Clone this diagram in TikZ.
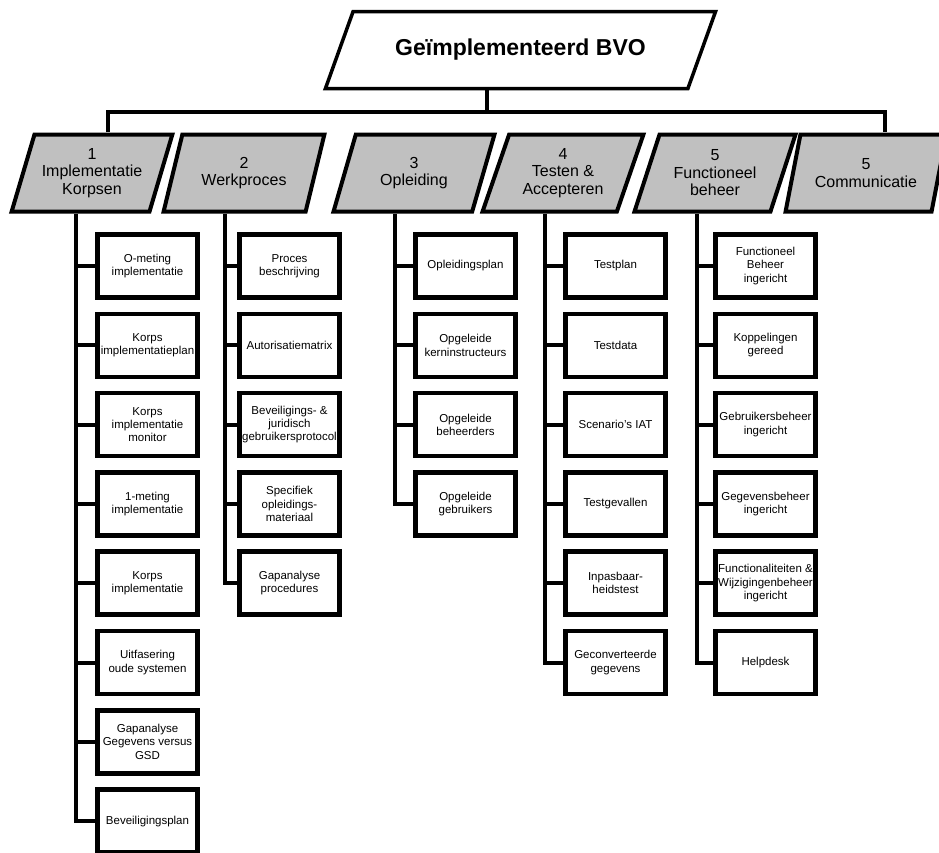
\documentclass[tikz,border=0pt]{standalone}
\usepackage{fontspec}
\setmainfont{Liberation Sans}
\usetikzlibrary{shapes.geometric}
\definecolor{wpgray}{RGB}{192,192,192}
\tikzset{
  goal/.style={draw, line width=3.5pt, trapezium, trapezium left angle=46,
    trapezium right angle=134, trapezium stretches=true, minimum width=391pt,
    minimum height=77pt, inner sep=0pt, font=\bfseries\fontsize{23}{27}\selectfont},
  wp/.style={draw, fill=wpgray, line width=4pt, trapezium, trapezium left angle=68,
    trapezium right angle=112, trapezium stretches=true, minimum width=161pt,
    minimum height=77pt, inner sep=0pt, align=center,
    font=\fontsize{16}{17.5}\selectfont},
  task/.style={draw, line width=4.5pt, rectangle, minimum width=100pt,
    minimum height=63pt, inner sep=1pt, align=center,
    font=\fontsize{11.5}{13.3}\selectfont},
  conn/.style={line width=4pt},
}
\begin{document}
\begin{tikzpicture}[x=1pt,y=-1pt]
      \useasboundingbox (0,0) rectangle (939,852);
      \pgfmathsetmacro{\h}{79.3}
      \pgfmathsetmacro{\yy}{266}

      \node[goal] (top) at (520.5,50) {Geïmplementeerd BVO};

      \node[wp] (w1) at (92,173) {1\\Implementatie\\Korpsen};
      \node[wp] (w2) at (244,173) {2\\Werkproces};
      \node[wp] (w3) at (414,173) {3\\Opleiding};
      \node[wp] (w4) at (563,173) {4\\Testen \&\\Accepteren};
      \node[wp] (w5) at (715,173) {5\\Functioneel\\beheer};
      \node[wp] (w6) at (866,173) {5\\Communicatie};

      \node[task] (c11) at (147.5,\yy) {O-meting\\implementatie};
      \node[task] (c12) at (147.5,\yy + \h) {Korps\\implementatieplan};
      \node[task] (c13) at (147.5,\yy + \h * 2) {Korps\\implementatie\\monitor};
      \node[task] (c14) at (147.5,\yy + \h * 3) {1-meting\\implementatie};
      \node[task] (c15) at (147.5,\yy + \h * 4) {Korps\\implementatie};
      \node[task] (c16) at (147.5,\yy + \h * 5) {Uitfasering\\oude systemen};
      \node[task] (c17) at (147.5,\yy + \h * 6) {Gapanalyse\\Gegevens versus\\GSD};
      \node[task] (c18) at (147.5,\yy + \h * 7) {Beveiligingsplan};

      \node[task] (c21) at (289.5,\yy) {Proces\\beschrijving};
      \node[task] (c22) at (289.5,\yy + \h) {Autorisatiematrix};
      \node[task] (c23) at (289.5,\yy + \h * 2) {Beveiligings- \&\\juridisch\\gebruikersprotocol};
      \node[task] (c24) at (289.5,\yy + \h * 3) {Specifiek\\opleidings-\\materiaal};
      \node[task] (c25) at (289.5,\yy + \h * 4) {Gapanalyse\\procedures};

      \node[task] (c31) at (465.5,\yy) {Opleidingsplan};
      \node[task] (c32) at (465.5,\yy + \h) {Opgeleide\\kerninstructeurs};
      \node[task] (c33) at (465.5,\yy + \h * 2) {Opgeleide\\beheerders};
      \node[task] (c34) at (465.5,\yy + \h * 3) {Opgeleide\\gebruikers};

      \node[task] (c41) at (615.5,\yy) {Testplan};
      \node[task] (c42) at (615.5,\yy + \h) {Testdata};
      \node[task] (c43) at (615.5,\yy + \h * 2) {Scenario's IAT};
      \node[task] (c44) at (615.5,\yy + \h * 3) {Testgevallen};
      \node[task] (c45) at (615.5,\yy + \h * 4) {Inpasbaar-\\heidstest};
      \node[task] (c46) at (615.5,\yy + \h * 5) {Geconverteerde\\gegevens};

      \node[task] (c51) at (765.5,\yy) {Functioneel\\Beheer\\ingericht};
      \node[task] (c52) at (765.5,\yy + \h) {Koppelingen\\gereed};
      \node[task] (c53) at (765.5,\yy + \h * 2) {Gebruikersbeheer\\ingericht};
      \node[task] (c54) at (765.5,\yy + \h * 3) {Gegevensbeheer\\ingericht};
      \node[task] (c55) at (765.5,\yy + \h * 4) {Functionaliteiten \&\\Wijzigingenbeheer\\ingericht};
      \node[task] (c56) at (765.5,\yy + \h * 5) {Helpdesk};

      \coordinate (bus) at (487,112);
      \coordinate (s1) at ([xshift=-16pt]w1.south);
      \coordinate (s2) at ([xshift=-19pt]w2.south);
      \coordinate (s3) at ([xshift=-19pt]w3.south);
      \coordinate (s4) at ([xshift=-18pt]w4.south);
      \coordinate (s5) at ([xshift=-18pt]w5.south);

      \draw[conn] (top.south -| bus) -- (bus);
      \draw[conn] ([xshift=16pt]w1.north) |- (bus) -| ([xshift=19pt]w6.north);

      \draw[conn] (s1) |- (c18.west);
      \draw[conn] (s1 |- c11.west) -- (c11.west);
      \draw[conn] (s1 |- c12.west) -- (c12.west);
      \draw[conn] (s1 |- c13.west) -- (c13.west);
      \draw[conn] (s1 |- c14.west) -- (c14.west);
      \draw[conn] (s1 |- c15.west) -- (c15.west);
      \draw[conn] (s1 |- c16.west) -- (c16.west);
      \draw[conn] (s1 |- c17.west) -- (c17.west);

      \draw[conn] (s2) |- (c25.west);
      \draw[conn] (s2 |- c21.west) -- (c21.west);
      \draw[conn] (s2 |- c22.west) -- (c22.west);
      \draw[conn] (s2 |- c23.west) -- (c23.west);
      \draw[conn] (s2 |- c24.west) -- (c24.west);

      \draw[conn] (s3) |- (c34.west);
      \draw[conn] (s3 |- c31.west) -- (c31.west);
      \draw[conn] (s3 |- c32.west) -- (c32.west);
      \draw[conn] (s3 |- c33.west) -- (c33.west);

      \draw[conn] (s4) |- (c46.west);
      \draw[conn] (s4 |- c41.west) -- (c41.west);
      \draw[conn] (s4 |- c42.west) -- (c42.west);
      \draw[conn] (s4 |- c43.west) -- (c43.west);
      \draw[conn] (s4 |- c44.west) -- (c44.west);
      \draw[conn] (s4 |- c45.west) -- (c45.west);

      \draw[conn] (s5) |- (c56.west);
      \draw[conn] (s5 |- c51.west) -- (c51.west);
      \draw[conn] (s5 |- c52.west) -- (c52.west);
      \draw[conn] (s5 |- c53.west) -- (c53.west);
      \draw[conn] (s5 |- c54.west) -- (c54.west);
      \draw[conn] (s5 |- c55.west) -- (c55.west);
\end{tikzpicture}
\end{document}
